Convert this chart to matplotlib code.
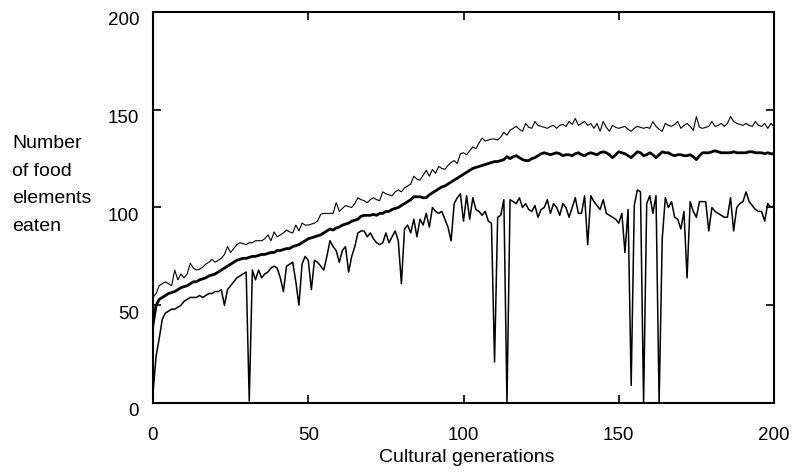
import matplotlib
matplotlib.use("Agg")
import matplotlib.pyplot as plt
import matplotlib.transforms as mtransforms
import numpy as np

plt.rcParams['font.family'] = ['Liberation Sans', 'DejaVu Sans']

# best / average / worst number of food elements eaten, one value per generation 0..200
best = [54, 56, 60, 61, 62, 61, 60, 68, 63, 66,
        64, 66, 71.5, 69, 68, 68.5, 69.5, 71, 72, 73.5,
        72, 73, 74, 76, 80, 77, 79, 81, 82, 81.5,
        81, 82, 82, 83, 83, 83, 84, 86, 83, 87.5,
        85, 86, 87, 88.5, 87.5, 87, 91, 88, 92, 91,
        91, 91.5, 92, 93, 96.5, 97, 97, 97, 97, 102.5,
        98, 99.5, 101, 100.5, 100, 102, 105, 104, 103.5, 102.5,
        104, 105, 104, 103.5, 108, 107, 106.5, 106, 108, 109,
        108, 110, 111, 112, 116, 114.5, 114, 116.5, 119, 116,
        119.5, 117.5, 121, 120, 119.5, 121.5, 123, 124, 122.5, 127.5,
        128, 127, 129, 131, 130, 133, 135.5, 134, 134.5, 135,
        135, 134.5, 136, 138.5, 137, 139.5, 140.5, 141.5, 140, 139,
        143, 141, 140.5, 144, 142, 141.5, 141, 140.5, 141.5, 142,
        140.5, 142, 142.5, 141.5, 144, 142.5, 145.5, 142, 143, 144,
        142, 143, 140.5, 143, 139, 144, 141, 139, 142, 141,
        140.5, 141, 141.5, 140, 139, 140.5, 141.5, 141, 140.5, 141,
        140.5, 144, 141.5, 140, 139, 143, 142, 141.5, 142.5, 144,
        140.5, 142, 143, 141.5, 139.5, 146.5, 141, 140.5, 141, 141.5,
        144, 141.5, 142, 143, 141.5, 143, 146.5, 144, 143, 142.5,
        142, 143, 142, 141.5, 144, 142, 141.5, 143, 140.5, 143,
        141.5]

average = [40, 50, 53, 54, 55, 56, 56.5, 57, 58, 59,
           59.5, 60, 61, 62, 62, 63, 63.5, 64, 65, 65.5,
           66, 67, 68, 69, 70, 71, 72, 73, 73.5, 74,
           74, 74.5, 75, 75, 75.5, 76, 76, 76.5, 77, 77,
           78, 78, 78.5, 79, 79, 80, 80.5, 81, 82, 83,
           84, 84.5, 85, 85.5, 86, 87, 88, 89, 88.5, 89.5,
           90, 91, 91.5, 92, 93, 93.5, 94, 95.5, 96, 96,
           96, 96.5, 96, 97, 97, 98, 98, 99, 99.5, 100,
           101, 102, 103, 104, 105.5, 105.5, 105.5, 105, 105, 106.5,
           107.5, 108.5, 109.5, 110.5, 111, 112, 113, 114, 115, 116,
           117, 118, 119, 120, 120.5, 121, 121.5, 122, 122.5, 123,
           123.5, 123.5, 124, 124.5, 126, 125, 126, 126.5, 125.5, 124.5,
           124, 124, 125, 125.5, 126.5, 127.5, 128, 127.5, 127, 127.5,
           128, 127.5, 126.5, 127, 127, 126.5, 127.5, 128, 127, 126.5,
           127.5, 128, 127.5, 127, 128, 128.5, 128, 127, 125.5, 127,
           128.5, 128, 127.5, 126.5, 125.5, 127, 128.5, 128, 126.5, 127,
           128, 127, 125.5, 127, 128.5, 128, 128, 127, 126.5, 127,
           127, 126.5, 126.5, 127, 126, 124.5, 126.5, 128, 128, 128,
           128.5, 129, 128.5, 128, 128, 128, 128, 128.5, 128, 128,
           128, 128, 128.5, 128.5, 128, 128, 128, 127.5, 128, 127.5,
           127.5]

worst = [5, 24, 33, 43, 46, 47, 48, 48, 49, 50,
         52, 53, 54, 54, 54, 55, 54, 55, 56, 56,
         57, 57, 58, 50, 58, 60, 62, 64, 65, 66,
         67, 1, 68, 63, 68, 64, 66, 67, 69, 70,
         69, 64, 57, 70, 71, 72, 62, 50, 71, 75,
         73, 58, 73, 72, 70, 68, 75, 83, 80, 78,
         72, 78, 80, 67, 75, 80, 87, 88, 88, 85,
         87, 84, 82, 81, 82, 87, 82, 85, 88, 83,
         61, 89, 91, 87, 94, 85, 94, 91, 97, 90,
         100, 98, 97, 98, 94, 90, 83, 102, 105, 107,
         93, 106, 94, 105, 99, 98, 96, 98, 93, 92,
         21, 95, 96, 104, 0, 104, 103, 102, 105, 100,
         102, 99, 98, 101, 95, 99, 100, 104, 97, 102,
         100, 96, 102, 100, 95, 100, 105, 97, 97, 106,
         81, 106, 103, 101, 99, 104, 97, 96, 95, 94,
         92, 97, 77, 99, 9, 101, 109, 108, 0, 102,
         106, 97, 106, 0, 84, 105, 100, 103, 95, 94,
         89, 98, 64, 103, 98, 95, 103, 103, 103, 88,
         100, 98, 97, 96, 95, 95, 105, 88, 100, 102,
         103, 108, 103, 101, 99, 98, 98, 93, 102, 100,
         101]

assert len(best) == len(average) == len(worst) == 201
generations = np.arange(len(best))

x_ticks = [0, 50, 100, 150, 200]
y_ticks = [0, 50, 100, 150, 200]

fig = plt.figure(figsize=(7.92, 4.72), dpi=100)
ax = fig.add_axes([153/792, 69/472, 621/792, 391/472])

ax.plot(generations, best, color='black', lw=0.8)
ax.plot(generations, average, color='black', lw=2.0)
ax.plot(generations, worst, color='black', lw=1.1)

ax.set_xlim(0, 200)
ax.set_ylim(0, 200)
ax.set_xticks(x_ticks)
ax.set_yticks(y_ticks)
ax.tick_params(direction='in', length=6, width=1.2, labelsize=13.5,
               top=True, right=True)
ax.tick_params(axis='x', pad=17)
ax.tick_params(axis='y', pad=10)
for s in ax.spines.values():
    s.set_linewidth(1.5)

# y labels sit a bit below their ticks in the original
shift = mtransforms.ScaledTranslation(0, -7/100, fig.dpi_scale_trans)
for lab in ax.get_yticklabels():
    lab.set_transform(lab.get_transform() + shift)

fig.text(467/792, 1 - 458/472, "Cultural generations", fontsize=14,
         ha='center', va='center')
fig.text(12/792, 1 - 185/472, "Number\nof food\nelements\neaten", fontsize=14,
         ha='left', va='center', linespacing=1.8)

fig.savefig("out.png", dpi=100)
